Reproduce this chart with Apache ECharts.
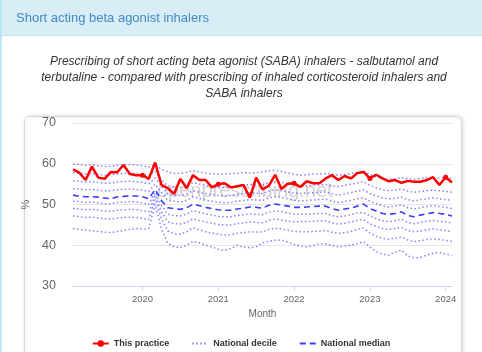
<!DOCTYPE html>
<html>
<head>
<meta charset="utf-8">
<script src="https://cdn.jsdelivr.net/npm/echarts@6.0.0/dist/echarts.min.js"></script>
<style>
  html, body { margin: 0; padding: 0; background: #fff; }
  #chart { width: 482px; height: 352px; }
</style>
</head>
<body>
<div id="chart"></div>
<script>
// months on the x axis (Feb 2019 - Feb 2024)
const months = [
  '2019-02','2019-03','2019-04','2019-05','2019-06','2019-07','2019-08','2019-09','2019-10','2019-11','2019-12',
  '2020-01','2020-02','2020-03','2020-04','2020-05','2020-06','2020-07','2020-08','2020-09','2020-10','2020-11','2020-12',
  '2021-01','2021-02','2021-03','2021-04','2021-05','2021-06','2021-07','2021-08','2021-09','2021-10','2021-11','2021-12',
  '2022-01','2022-02','2022-03','2022-04','2022-05','2022-06','2022-07','2022-08','2022-09','2022-10','2022-11','2022-12',
  '2023-01','2023-02','2023-03','2023-04','2023-05','2023-06','2023-07','2023-08','2023-09','2023-10','2023-11','2023-12',
  '2024-01','2024-02'
]
const yearTicks = ['2020', '2021', '2022', '2023', '2024']

// this practice (%)
const practice = [
  58.6, 57.8, 56.0, 59.3, 56.6, 56.3, 58.0, 57.9, 59.7, 57.5, 57.2,
  57.2, 56.3, 60.3, 54.8, 54.0, 52.6, 56.3, 54.0, 57.2, 56.0, 56.0, 54.2,
  55.0, 55.2, 54.2, 54.5, 54.8, 51.7, 56.6, 53.7, 54.6, 57.3, 53.8, 55.1,
  55.2, 54.3, 55.7, 55.2, 55.2, 56.4, 57.2, 56.0, 57.0, 56.4, 57.7, 58.0,
  56.4, 57.3, 56.4, 55.7, 56.0, 55.3, 55.8, 55.6, 55.6, 56.0, 56.7, 54.8,
  56.7, 55.4
]

// national deciles
const p10 = [
  44.1, 43.9, 43.7, 43.6, 43.4, 43.2, 43.1, 43.4, 43.6, 43.9, 44.1, 43.9, 44.1,
  50.0, 44.0, 40.5, 39.6, 39.4, 40.0, 41.0, 40.6, 40.0, 39.6, 39.0,
  38.7, 39.2, 40.0, 39.5, 39.4, 39.6, 40.6, 41.0, 41.2, 41.3, 40.8, 40.2, 39.8, 39.6, 39.9, 40.4, 40.3, 39.9, 39.6, 39.8, 40.0, 40.4, 40.9,
  39.6, 38.4, 37.8, 37.6, 38.3, 38.8, 37.4, 36.9, 37.0, 37.6, 38.0, 38.2, 37.9, 37.4
]
const p20 = [
  47.2, 47.0, 46.8, 46.9, 46.7, 46.5, 46.4, 46.7, 46.8, 46.9, 46.8, 46.6, 46.3,
  51.3, 46.5, 43.5, 42.8, 42.7, 43.3, 44.3, 43.8, 43.3, 43.0, 42.7,
  42.5, 42.6, 42.9, 43.1, 43.3, 43.2, 43.3, 43.9, 44.2, 44.0, 43.7, 43.4, 43.3, 43.3, 43.4, 43.5, 43.6, 43.2, 42.9, 43.1, 43.4, 43.9, 44.2,
  43.0, 42.2, 41.7, 41.5, 41.7, 42.0, 41.3, 40.9, 41.1, 41.4, 41.6, 41.4, 41.2, 40.9
]
const p30 = [
  49.0, 48.9, 48.7, 48.8, 48.6, 48.4, 48.3, 48.6, 48.7, 48.8, 48.7, 48.5, 48.2,
  52.3, 48.2, 45.8, 45.3, 45.2, 45.6, 46.5, 46.1, 45.7, 45.4, 45.1,
  45.0, 45.0, 45.3, 45.5, 45.7, 45.6, 45.5, 46.1, 46.4, 46.2, 45.9, 45.7, 45.8, 45.8, 45.9, 46.0, 46.0, 45.5, 45.2, 45.4, 45.7, 46.1, 46.3,
  45.3, 44.6, 44.1, 43.9, 44.1, 44.4, 43.6, 43.3, 43.5, 43.8, 44.0, 43.8, 43.6, 43.3
]
const p40 = [
  50.8, 50.7, 50.5, 50.6, 50.4, 50.2, 50.2, 50.5, 50.6, 50.7, 50.6, 50.4, 50.0,
  53.0, 49.8, 47.6, 47.3, 47.2, 47.6, 48.5, 48.1, 47.7, 47.4, 47.1,
  47.0, 47.0, 47.3, 47.5, 47.7, 47.6, 47.5, 48.1, 48.4, 48.2, 47.9, 47.6, 47.6, 47.6, 47.7, 47.8, 47.8, 47.3, 47.0, 47.2, 47.5, 47.9, 48.0,
  47.2, 46.5, 46.0, 45.8, 46.0, 46.4, 45.6, 45.3, 45.6, 45.9, 46.1, 45.9, 45.7, 45.5
]
const median = [
  52.3, 52.0, 51.9, 51.9, 51.8, 51.6, 51.4, 51.9, 52.0, 52.1, 52.1, 51.9, 51.4,
  53.7, 51.0, 49.2, 49.0, 48.8, 49.2, 50.1, 49.7, 49.3, 49.0, 48.7,
  48.6, 48.6, 48.9, 49.1, 49.4, 49.3, 49.1, 49.8, 50.1, 49.9, 49.6, 49.3, 49.3, 49.4, 49.5, 49.6, 49.6, 49.0, 48.6, 48.9, 49.1, 49.6, 50.1,
  49.0, 48.4, 47.8, 47.6, 47.8, 48.2, 47.3, 47.0, 47.4, 47.7, 48.0, 47.8, 47.6, 47.2
]
const p60 = [
  53.9, 53.8, 53.6, 53.7, 53.5, 53.3, 53.4, 53.6, 53.7, 53.8, 53.7, 53.5, 53.2,
  55.0, 53.0, 51.0, 50.8, 50.6, 51.0, 51.9, 51.5, 51.1, 50.8, 50.5,
  50.4, 50.5, 50.8, 51.0, 51.2, 51.1, 51.0, 51.6, 51.9, 51.7, 51.4, 51.0, 50.9, 51.0, 51.1, 51.2, 51.3, 50.8, 50.5, 50.7, 51.0, 51.4, 51.6,
  50.8, 50.2, 49.7, 49.4, 49.6, 49.9, 49.2, 48.9, 49.2, 49.5, 49.7, 49.5, 49.3, 49.0
]
const p70 = [
  55.8, 55.7, 55.5, 55.6, 55.4, 55.2, 55.3, 55.5, 55.6, 55.7, 55.6, 55.4, 55.1,
  56.5, 54.5, 52.6, 52.3, 52.2, 52.6, 53.4, 53.0, 52.7, 52.4, 52.2,
  52.1, 52.2, 52.5, 52.7, 52.9, 52.8, 52.7, 53.3, 53.6, 53.4, 53.1, 52.8, 52.7, 52.8, 52.9, 53.0, 53.1, 52.6, 52.3, 52.6, 52.9, 53.3, 53.6,
  52.7, 52.1, 51.6, 51.4, 51.5, 51.8, 51.2, 50.9, 51.2, 51.4, 51.6, 51.4, 51.2, 51.0
]
const p80 = [
  57.8, 57.7, 57.5, 57.6, 57.4, 57.2, 57.3, 57.5, 57.6, 57.7, 57.6, 57.4, 57.1,
  58.2, 56.0, 54.6, 54.3, 54.2, 54.6, 55.4, 55.0, 54.7, 54.4, 54.2,
  54.2, 54.3, 54.5, 54.7, 54.9, 54.8, 54.8, 55.3, 55.6, 55.4, 55.1, 54.8, 54.6, 54.6, 54.7, 54.8, 54.9, 54.6, 54.4, 54.7, 55.0, 55.3, 55.6,
  54.7, 54.1, 53.6, 53.4, 53.5, 53.8, 53.3, 53.0, 53.2, 53.4, 53.5, 53.4, 53.2, 53.0
]
const p90 = [
  59.9, 59.8, 59.6, 59.7, 59.5, 59.3, 59.4, 59.6, 59.7, 59.8, 59.7, 59.5, 59.2,
  59.8, 58.6, 58.0, 57.6, 57.6, 57.9, 58.3, 58.0, 57.7, 57.5, 57.4,
  57.5, 57.6, 57.6, 57.9, 57.7, 57.8, 58.0, 58.3, 58.4, 58.1, 57.7, 57.4, 57.2, 57.3, 57.5, 57.5, 57.6, 57.5, 57.2, 57.4, 57.6, 57.9, 58.2,
  57.3, 56.8, 56.4, 56.2, 56.3, 56.6, 56.3, 56.2, 56.4, 56.6, 56.6, 56.5, 56.6, 56.4
]

const font = '"Liberation Sans", Arial, sans-serif'
const isJan = (idx) => months[idx].slice(5) === '01' && yearTicks.includes(months[idx].slice(0, 4))

const decileSeries = [p10, p20, p30, p40, p60, p70, p80, p90].map(d => ({
  name: 'National decile',
  type: 'line',
  data: d,
  symbol: 'none',
  silent: true,
  lineStyle: { color: 'rgba(90,90,255,0.75)', width: 1.5, type: [1.5, 2.5] },
  itemStyle: { color: 'rgba(90,90,255,0.75)' }
}))

const chart = echarts.init(document.getElementById('chart'))
chart.setOption({
  animation: false,
  graphic: [
    { type: 'rect', z: 0, shape: { x: 0, y: 0, width: 482, height: 35 }, style: { fill: '#d9edf7' } },
    { type: 'rect', z: 0, shape: { x: 0, y: 35, width: 482, height: 1 }, style: { fill: '#c4e2ee' } },
    { type: 'rect', z: 0, shape: { x: 0, y: 0, width: 2, height: 352 }, style: { fill: '#bce8f1' } },
    {
      type: 'text', z: 0, x: 16, y: 18,
      style: { text: 'Short acting beta agonist inhalers', font: '13px ' + font, fill: '#4189c7', verticalAlign: 'middle' }
    },
    {
      type: 'text', z: 0, x: 244, y: 54,
      style: {
        text: 'Prescribing of short acting beta agonist (SABA) inhalers - salbutamol and\nterbutaline - compared with prescribing of inhaled corticosteroid inhalers and\nSABA inhalers',
        font: 'italic 12px ' + font, fill: '#333', align: 'center', lineHeight: 16
      }
    },
    // card around the plot
    {
      type: 'rect', z: 0, shape: { x: 24.5, y: 116.5, width: 437, height: 260, r: 5 },
      style: { fill: '#fff', stroke: '#d8d8d8', lineWidth: 1, shadowBlur: 4, shadowOffsetX: 1, shadowColor: 'rgba(0,0,0,0.15)' }
    },
    // watermark
    {
      type: 'text', z: 1, x: 157, y: 191,
      style: { text: 'openprescribing.net', font: '20px ' + font, fill: 'rgba(0,0,0,0.18)', verticalAlign: 'middle' }
    }
  ],
  grid: { left: 73, right: 30, top: 123, bottom: 66 },
  legend: {
    top: 334,
    left: 'center',
    itemWidth: 16,
    itemHeight: 8,
    itemGap: 22,
    selectedMode: false,
    textStyle: { fontFamily: font, fontSize: 9, fontWeight: 'bold', color: '#333' },
    data: [
      'This practice',
      { name: 'National decile', itemStyle: { opacity: 0 } },
      { name: 'National median', itemStyle: { opacity: 0 } }
    ]
  },
  xAxis: {
    type: 'category',
    data: months,
    boundaryGap: false,
    name: 'Month',
    nameLocation: 'middle',
    nameGap: 23,
    nameTextStyle: { fontFamily: font, fontSize: 10, color: '#666' },
    axisLine: { lineStyle: { color: '#ccd6eb' } },
    axisTick: { interval: isJan, length: 5, lineStyle: { color: '#ccd6eb' } },
    axisLabel: {
      interval: isJan,
      formatter: v => v.slice(0, 4),
      margin: 8,
      fontFamily: font, fontSize: 9.5, color: '#666'
    },
    splitLine: { show: false }
  },
  yAxis: {
    type: 'value',
    min: 30,
    max: 70,
    interval: 10,
    name: '%',
    nameLocation: 'middle',
    nameRotate: 90,
    nameGap: 38,
    nameTextStyle: { fontFamily: font, fontSize: 11, color: '#666' },
    axisLine: { show: false },
    axisTick: { show: false },
    axisLabel: { margin: 17, fontFamily: font, fontSize: 12.5, color: '#666' },
    splitLine: { lineStyle: { color: '#e6e6e6' } }
  },
  series: [
    ...decileSeries,
    {
      name: 'National median',
      type: 'line',
      data: median,
      symbol: 'none',
      silent: true,
      lineStyle: { color: '#3c3cff', width: 1.6, type: [6, 4] },
      itemStyle: { color: '#3c3cff' }
    },
    {
      name: 'This practice',
      type: 'line',
      data: practice,
      symbol: 'circle',
      symbolSize: 5,
      silent: true,
      lineStyle: { color: '#ff0000', width: 2.5 },
      itemStyle: { color: '#ff0000' }
    }
  ]
})
</script>
</body>
</html>
